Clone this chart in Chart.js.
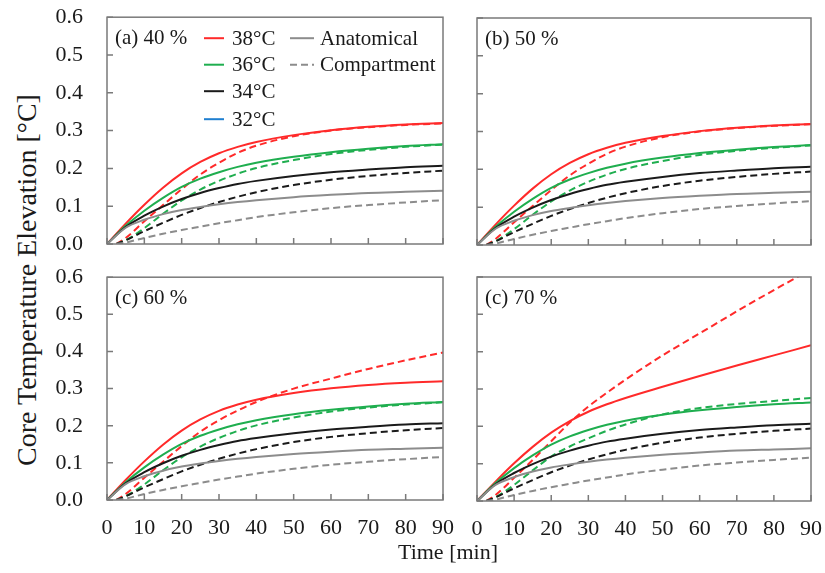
<!DOCTYPE html>
<html>
<head>
<meta charset="utf-8">
<script src="https://cdn.jsdelivr.net/npm/chart.js@4/dist/chart.umd.min.js"></script>
<style>
html,body{margin:0;padding:0;background:#fff;}
body{width:825px;height:573px;overflow:hidden;position:relative;font-family:"Liberation Serif","Times New Roman",serif;color:#1a1a1a;}
canvas{position:absolute;}
#ytitle{position:absolute;width:460px;height:34px;line-height:34px;text-align:center;font-size:28px;white-space:nowrap;left:-203px;top:263px;transform:rotate(-90deg);}
#xtitle{position:absolute;width:220px;height:30px;line-height:30px;text-align:center;font-size:22px;white-space:nowrap;left:338px;top:537px;}
</style>
</head>
<body>
<canvas id="ca"></canvas>
<canvas id="cb"></canvas>
<canvas id="cc"></canvas>
<canvas id="cd"></canvas>
<div id="ytitle">Core Temperature Elevation [°C]</div>
<div id="xtitle">Time [min]</div>
<script>
// ---------- data ----------
const timeSolid  = [0, 5, 10, 15, 20, 25, 30, 35, 40, 50, 60, 70, 80, 90];
const timeDashed = [2.5, 5, 10, 15, 20, 25, 30, 35, 40, 50, 60, 70, 80, 90];
const xTicks = [0, 10, 20, 30, 40, 50, 60, 70, 80, 90];
const yTicks = [0.0, 0.1, 0.2, 0.3, 0.4, 0.5, 0.6];

// shared curves (panels a, b, c and most of d)
const red38Anat   = [0, 0.054, 0.104, 0.149, 0.187, 0.217, 0.240, 0.257, 0.270, 0.288, 0.301, 0.310, 0.316, 0.320];
const red38Comp   = [0, 0.016, 0.060, 0.103, 0.145, 0.184, 0.215, 0.241, 0.260, 0.285, 0.300, 0.309, 0.315, 0.319];
const green36Anat = [0, 0.048, 0.088, 0.122, 0.151, 0.173, 0.190, 0.204, 0.215, 0.231, 0.243, 0.252, 0.259, 0.264];
const green36Comp = [0, 0.010, 0.042, 0.080, 0.115, 0.144, 0.167, 0.186, 0.201, 0.222, 0.238, 0.249, 0.257, 0.263];
const black34Anat = [0, 0.045, 0.075, 0.099, 0.119, 0.135, 0.148, 0.159, 0.167, 0.180, 0.190, 0.197, 0.203, 0.207];
const black34Comp = [0, 0.010, 0.034, 0.056, 0.077, 0.095, 0.111, 0.125, 0.137, 0.156, 0.170, 0.180, 0.188, 0.194];
const gray32Anat  = [0, 0.043, 0.064, 0.079, 0.090, 0.098, 0.105, 0.111, 0.116, 0.124, 0.130, 0.135, 0.138, 0.141];
const gray32Comp  = [0, 0.004, 0.016, 0.027, 0.037, 0.046, 0.055, 0.063, 0.071, 0.084, 0.095, 0.103, 0.110, 0.116];

// panel-specific curves
const red38CompC   = [0, 0.016, 0.060, 0.103, 0.145, 0.184, 0.215, 0.241, 0.264, 0.300, 0.327, 0.353, 0.376, 0.397];
const red38AnatD   = [0, 0.052, 0.101, 0.145, 0.183, 0.214, 0.239, 0.259, 0.276, 0.306, 0.335, 0.363, 0.390, 0.417];
const red38CompD   = [0, 0.016, 0.062, 0.110, 0.160, 0.210, 0.253, 0.290, 0.325, 0.390, 0.449, 0.508, 0.565, 0.620];
const green36CompD = [0, 0.010, 0.043, 0.082, 0.119, 0.146, 0.168, 0.188, 0.205, 0.232, 0.249, 0.260, 0.268, 0.276];

const panelLabels = ['(a) 40 %', '(b) 50 %', '(c) 60 %', '(c) 70 %'];
const legendTemps = ['38°C', '36°C', '34°C', '32°C'];
const legendModels = ['Anatomical', 'Compartment'];

// ---------- styles ----------
const C_RED = '#ff2a2a', C_GREEN = '#1fae4f', C_BLACK = '#1a1a1a', C_GRAY = '#8c8c8c', C_BLUE = '#1f7fd0';
const legendColors = [C_RED, C_GREEN, C_BLACK, C_BLUE];
const FONT = '"Liberation Serif", "Times New Roman", serif';

function pts(ts, vs){ return ts.map((t,i)=>({x:t, y:vs[i]})); }
function ds(ts, vs, color, dashed){
  return {data: pts(ts, vs), borderColor: color, borderWidth: 2, borderDash: dashed ? [7,4] : [],
          pointRadius: 0, fill: false, cubicInterpolationMode: 'monotone'};
}
function datasetsFor(r, rc, g, gc, b, bc, k, kc){
  return [
    ds(timeSolid, k, C_GRAY, false), ds(timeDashed, kc, C_GRAY, true),
    ds(timeSolid, b, C_BLACK, false), ds(timeDashed, bc, C_BLACK, true),
    ds(timeSolid, g, C_GREEN, false), ds(timeDashed, gc, C_GREEN, true),
    ds(timeSolid, r, C_RED, false), ds(timeDashed, rc, C_RED, true)
  ];
}

const framePlugin = {
  id: 'frame',
  afterDatasetsDraw(chart, args, opts){
    const ctx = chart.ctx, a = chart.chartArea, x = chart.scales.x, y = chart.scales.y;
    ctx.save();
    ctx.strokeStyle = '#7a7a7a'; ctx.lineWidth = 1.5; ctx.setLineDash([]);
    ctx.strokeRect(a.left, a.top, a.right - a.left, a.bottom - a.top);
    ctx.beginPath();
    x.ticks.forEach(t => { const px = x.getPixelForValue(t.value); ctx.moveTo(px, a.bottom); ctx.lineTo(px, a.bottom - 6); });
    y.ticks.forEach(t => { const py = y.getPixelForValue(t.value); ctx.moveTo(a.left, py); ctx.lineTo(a.left + 6, py); });
    ctx.stroke();
    ctx.fillStyle = '#1a1a1a'; ctx.textBaseline = 'middle'; ctx.textAlign = 'left';
    ctx.font = '21px ' + FONT;
    ctx.fillText(opts.label, a.left + 8, a.top + 21.5);
    if (opts.legend){
      const rows = [21, 47.5, 74, 102];
      ctx.lineWidth = 2;
      legendTemps.forEach((lab, i) => {
        const yy = a.top + rows[i];
        ctx.strokeStyle = legendColors[i]; ctx.setLineDash([]);
        ctx.beginPath(); ctx.moveTo(a.left + 97, yy); ctx.lineTo(a.left + 117, yy); ctx.stroke();
        ctx.fillText(lab, a.left + 125, yy + 1);
      });
      legendModels.forEach((lab, i) => {
        const yy = a.top + rows[i];
        ctx.strokeStyle = C_GRAY; ctx.setLineDash(i === 1 ? [7,4] : []);
        ctx.beginPath(); ctx.moveTo(a.left + 183, yy); ctx.lineTo(a.left + 207, yy); ctx.stroke();
        ctx.fillText(lab, a.left + 213, yy + 1);
      });
    }
    ctx.restore();
  }
};

const PADL = 60, PADT = 20, PADR = 20, PADB = 50;
function config(datasets, label, showX, showY, legend){
  return {
    type: 'line',
    data: {datasets},
    options: {
      responsive: false, maintainAspectRatio: false, animation: false, devicePixelRatio: 1,
      layout: {padding: {left: 0, top: PADT, right: PADR, bottom: 0}},
      plugins: {legend: {display: false}, tooltip: {enabled: false}, frame: {label, legend}},
      scales: {
        x: {type: 'linear', min: 0, max: 90,
            afterBuildTicks: s => { s.ticks = xTicks.map(v => ({value: v})); },
            afterFit: s => { s.height = PADB; },
            grid: {display: false, drawTicks: false}, border: {display: false},
            ticks: {display: showX, padding: 15, color: '#1a1a1a', font: {family: FONT, size: 22}, maxRotation: 0,
                    callback: v => String(v)}},
        y: {type: 'linear', min: 0, max: 0.6,
            afterBuildTicks: s => { s.ticks = yTicks.map(v => ({value: v})); },
            afterFit: s => { s.width = PADL; },
            grid: {display: false, drawTicks: false}, border: {display: false},
            ticks: {display: showY, padding: 24, color: '#1a1a1a', font: {family: FONT, size: 22},
                    callback: v => Number(v).toFixed(1)}}
      }
    },
    plugins: [framePlugin]
  };
}

function makePanel(id, L, T, R, B, datasets, label, showX, showY, legend){
  const cv = document.getElementById(id);
  let w = R - L + PADL + PADR, h = B - T + PADT + PADB, chart = null;
  for (let pass = 0; pass < 3; pass++){
    if (chart) chart.destroy();
    cv.width = w; cv.height = h;
    cv.style.width = w + 'px'; cv.style.height = h + 'px';
    chart = new Chart(cv, config(datasets, label, showX, showY, legend));
    const a = chart.chartArea;
    const dw = (R - L) - (a.right - a.left), dh = (B - T) - (a.bottom - a.top);
    if (Math.abs(dw) < 0.5 && Math.abs(dh) < 0.5) break;
    w += dw; h += dh;
  }
  const a = chart.chartArea;
  cv.style.left = (L - a.left) + 'px'; cv.style.top = (T - a.top) + 'px';
}

makePanel('ca', 107, 17, 443, 244,
  datasetsFor(red38Anat, red38Comp, green36Anat, green36Comp, black34Anat, black34Comp, gray32Anat, gray32Comp),
  panelLabels[0], false, true, true);
makePanel('cb', 477, 18, 811, 245,
  datasetsFor(red38Anat, red38Comp, green36Anat, green36Comp, black34Anat, black34Comp, gray32Anat, gray32Comp),
  panelLabels[1], false, false, false);
makePanel('cc', 107, 277, 443, 500,
  datasetsFor(red38Anat, red38CompC, green36Anat, green36Comp, black34Anat, black34Comp, gray32Anat, gray32Comp),
  panelLabels[2], true, true, false);
makePanel('cd', 477, 277, 811, 501,
  datasetsFor(red38AnatD, red38CompD, green36Anat, green36CompD, black34Anat, black34Comp, gray32Anat, gray32Comp),
  panelLabels[3], true, false, false);
</script>
</body>
</html>
